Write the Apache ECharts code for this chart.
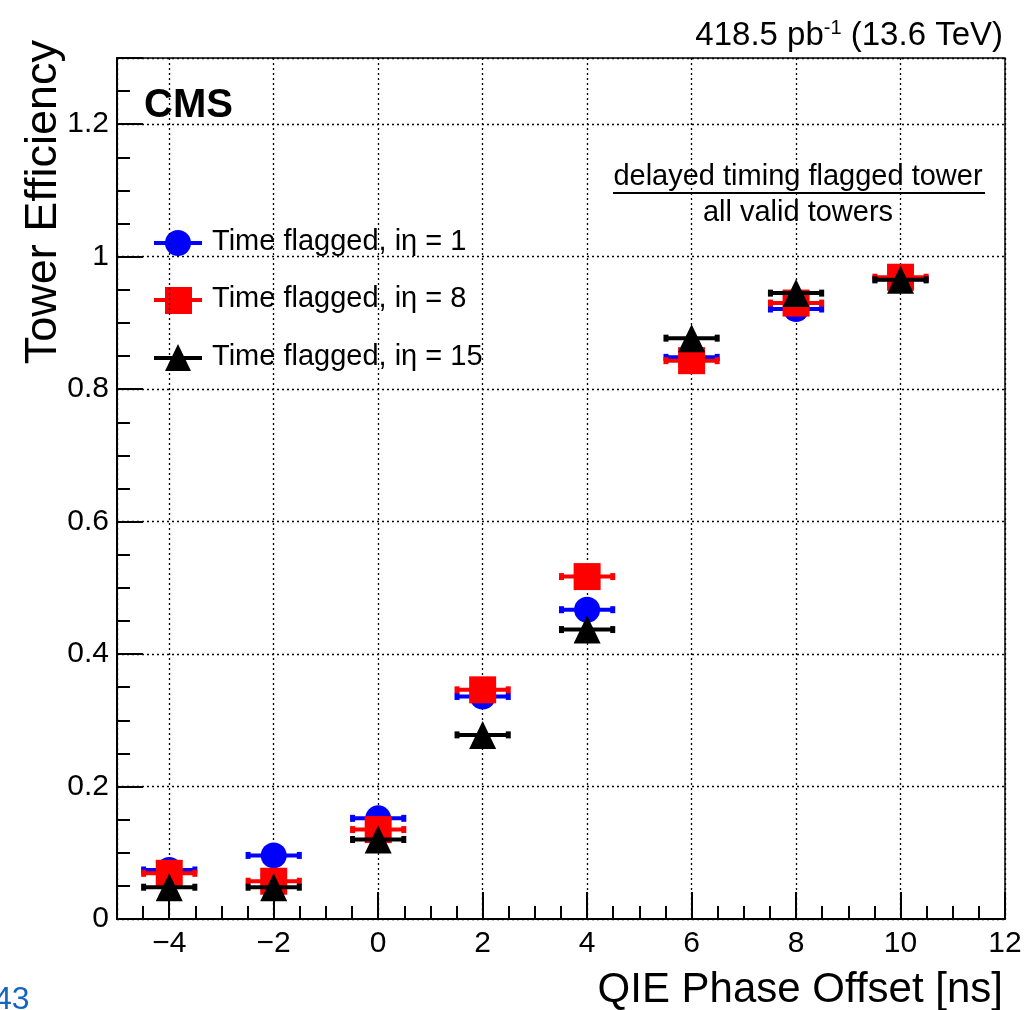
<!DOCTYPE html>
<html><head><meta charset="utf-8">
<script src="https://cdn.jsdelivr.net/npm/echarts@6/dist/echarts.min.js"></script>
<style>html,body{margin:0;padding:0;background:#fff}#c{width:1025px;height:1010px}</style>
</head><body><div id="c"></div>
<script>
// ---- data ----
const phaseOffsets = [-4, -2, 0, 2, 4, 6, 8, 10];
const effIeta1  = [0.074, 0.096, 0.152, 0.336, 0.467, 0.848, 0.921, 0.966];
const effIeta8  = [0.069, 0.057, 0.135, 0.346, 0.517, 0.843, 0.930, 0.969];
const effIeta15 = [0.048, 0.048, 0.120, 0.278, 0.437, 0.877, 0.945, 0.965];
const xHalfWidth = 0.5;
const seriesNames = ['Time flagged, i\u03B7 = 1', 'Time flagged, i\u03B7 = 8', 'Time flagged, i\u03B7 = 15'];
const seriesColors = ['#0000ff', '#ff0000', '#000000'];
const seriesSymbols = ['circle', 'rect', 'triangle'];
const xRange = [-5, 12];
const yRange = [0, 1.3];

const FONT = '"Liberation Sans", Arial, sans-serif';

function pairs(ys) { return phaseOffsets.map((x, i) => [x, ys[i]]); }
const allVals = [effIeta1, effIeta8, effIeta15];

function errRender(color) {
  return function (params, api) {
    const x = api.value(0), y = api.value(1);
    const p1 = api.coord([x - xHalfWidth, y]);
    const p2 = api.coord([x + xHalfWidth, y]);
    return {
      type: 'group', children: [
        { type: 'line', shape: { x1: p1[0], y1: p1[1], x2: p2[0], y2: p2[1] }, style: { stroke: color, lineWidth: 4 } },
        { type: 'rect', shape: { x: p1[0] - 2, y: p1[1] - 3.5, width: 5, height: 7 }, style: { fill: color } },
        { type: 'rect', shape: { x: p2[0] - 3, y: p2[1] - 3.5, width: 5, height: 7 }, style: { fill: color } }
      ]
    };
  };
}

const series = [];
allVals.forEach((vals, k) => {
  series.push({
    type: 'custom', name: seriesNames[k] + ' err', data: pairs(vals),
    renderItem: errRender(seriesColors[k]), z: 2 + 2 * k, silent: true
  });
  series.push({
    type: 'scatter', name: seriesNames[k], data: pairs(vals),
    symbol: seriesSymbols[k],
    symbolSize: k === 0 ? 26 : (k === 1 ? 27 : [27, 28]),
    itemStyle: { color: seriesColors[k], opacity: 1 },
    z: 3 + 2 * k, silent: true
  });
});

const minusFmt = v => String(v).replace('-', '\u2212');

// legend built with graphic elements
const legendRows = [243, 300, 358];
const legendGraphics = [];
legendRows.forEach((y, k) => {
  legendGraphics.push({ type: 'line', shape: { x1: 154, y1: y, x2: 202, y2: y }, style: { stroke: seriesColors[k], lineWidth: 4 } });
  if (k === 0) legendGraphics.push({ type: 'circle', shape: { cx: 178, cy: y, r: 13 }, style: { fill: seriesColors[k] } });
  if (k === 1) legendGraphics.push({ type: 'rect', shape: { x: 165, y: y - 13, width: 27, height: 27 }, style: { fill: seriesColors[k] } });
  if (k === 2) legendGraphics.push({ type: 'polygon', shape: { points: [[178, y - 14], [191, y + 13], [165, y + 13]] }, style: { fill: seriesColors[k] } });
  legendGraphics.push({ type: 'text', x: 212, y: y - 1, style: { text: seriesNames[k], font: '29px ' + FONT, fill: '#000', verticalAlign: 'middle' } });
});

const chart = echarts.init(document.getElementById('c'), null, { renderer: 'canvas' });
chart.setOption({
  backgroundColor: '#fff',
  animation: false,
  grid: { left: 117, right: 20, top: 58, bottom: 91, show: true, borderColor: '#000', borderWidth: 1.5, backgroundColor: 'transparent' },
  xAxis: {
    type: 'value', min: xRange[0], max: xRange[1], minInterval: 2, maxInterval: 2, splitNumber: 8,
    axisLine: { show: true, onZero: false, lineStyle: { color: '#000', width: 2 } },
    axisTick: { show: true, inside: true, length: 27, lineStyle: { color: '#000', width: 2 } },
    minorTick: { show: true, splitNumber: 4, length: 13, lineStyle: { color: '#000', width: 2 } },
    axisLabel: { showMinLabel: false, margin: 10, color: '#000', fontSize: 30, fontFamily: FONT, formatter: minusFmt },
    splitLine: { show: true, lineStyle: { color: '#000', width: 1.3, type: [2, 3] } }
  },
  yAxis: {
    type: 'value', min: yRange[0], max: yRange[1], minInterval: 0.2, maxInterval: 0.2, splitNumber: 7,
    axisLine: { show: true, onZero: false, lineStyle: { color: '#000', width: 2 } },
    axisTick: { show: true, inside: true, length: 26, lineStyle: { color: '#000', width: 2 } },
    minorTick: { show: true, splitNumber: 4, length: 13, lineStyle: { color: '#000', width: 2 } },
    axisLabel: { showMaxLabel: false, margin: 8, color: '#000', fontSize: 30, fontFamily: FONT },
    splitLine: { show: true, lineStyle: { color: '#000', width: 1.3, type: [2, 3] } }
  },
  series: series,
  graphic: [
    { type: 'text', x: 144, y: 86, style: { text: 'CMS', font: 'bold 40px ' + FONT, fill: '#000', verticalAlign: 'top' } },
    { type: 'text', x: 1003, y: 18, style: {
        text: '{a|418.5 pb}{s|-1}{a| (13.6 TeV)}', align: 'right', verticalAlign: 'top',
        rich: { a: { font: '33px ' + FONT, fill: '#000' }, s: { font: '20px ' + FONT, fill: '#000', verticalAlign: 'top', padding: [0, 0, 15, 0] } } } },
    { type: 'text', x: 798, y: 162, style: { text: 'delayed timing flagged tower', font: '29px ' + FONT, fill: '#000', align: 'center', verticalAlign: 'top' } },
    { type: 'line', shape: { x1: 613, y1: 193, x2: 985, y2: 193 }, style: { stroke: '#000', lineWidth: 2 } },
    { type: 'text', x: 798, y: 198, style: { text: 'all valid towers', font: '29px ' + FONT, fill: '#000', align: 'center', verticalAlign: 'top' } },
    { type: 'text', x: 1003, y: 969, style: { text: 'QIE Phase Offset [ns]', font: '42px ' + FONT, fill: '#000', align: 'right', verticalAlign: 'top' } },
    { type: 'text', x: 21, y: 40, rotation: Math.PI / 2, style: { text: 'Tower Efficiency', font: '45px ' + FONT, fill: '#000', align: 'right', verticalAlign: 'top' } },
    { type: 'text', x: -6, y: 984, style: { text: '43', font: '32px ' + FONT, fill: '#1565c0', verticalAlign: 'top' } }
  ].concat(legendGraphics)
});
</script>
</body></html>
